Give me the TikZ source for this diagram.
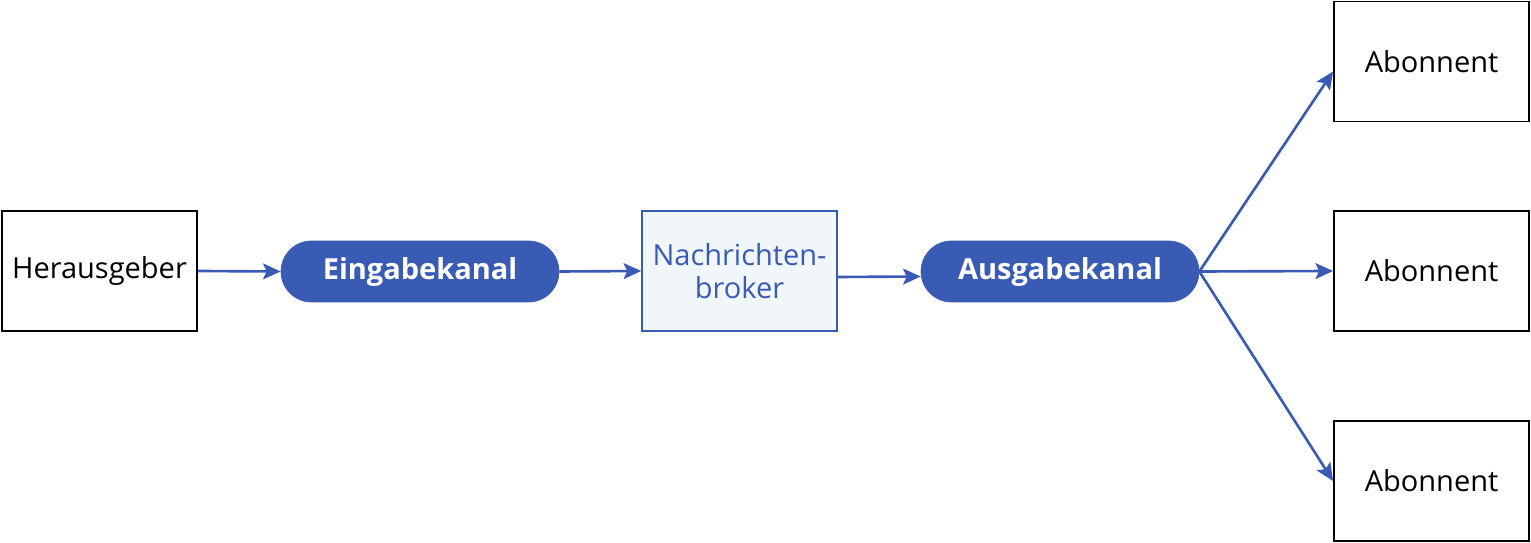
\documentclass[tikz,border=0pt]{standalone}
\usepackage{fontspec}
\setmainfont{Open Sans}
\usetikzlibrary{arrows.meta,shapes.misc}
\definecolor{chanblue}{HTML}{3A5BB3}
\definecolor{brokerfill}{HTML}{F0F6F9}
\tikzset{
  party/.style={draw=black,line width=1.1pt,minimum width=3.9cm,minimum height=2.4cm,inner sep=0pt},
  channel/.style={rounded rectangle,fill=chanblue,draw=chanblue,text=white,font=\fontsize{16.5}{19}\selectfont\bfseries,minimum width=5.56cm,minimum height=1.22cm,inner sep=0pt},
  broker/.style={draw=chanblue,line width=0.9pt,fill=brokerfill,text=chanblue,align=center,minimum width=3.9cm,minimum height=2.4cm,inner sep=0pt},
  flow/.style={chanblue,line width=1.5pt,-{Stealth[length=10pt,width=9pt,inset=2pt]}}
}
\begin{document}
\begin{tikzpicture}[x=0.02cm,y=-0.02cm,font=\fontsize{16.5}{19}\selectfont]
  \useasboundingbox (0,0) rectangle (1531,543);
  \node[party] (pub) at (99.5,271) {Herausgeber};
  \node[channel] (in) at (420,271.5) {Eingabekanal};
  \node[broker] (brk) at (739.5,271) {Nachrichten-\\broker};
  \node[channel] (out) at (1060,271.5) {Ausgabekanal};
  \node[party] (sub1) at (1431.5,61.5) {Abonnent};
  \node[party] (sub2) at (1431.5,271) {Abonnent};
  \node[party] (sub3) at (1431.5,481) {Abonnent};
  \draw[flow] (pub.east) -- (in.west);
  \draw[flow] (in.east) -- (brk.west);
  \draw[flow] ([yshift=-0.12cm]brk.east) -- ([yshift=-0.1cm]out.west);
  \draw[flow] (out.east) -- ([yshift=-0.2cm]sub1.west);
  \draw[flow] (out.east) -- (sub2.west);
  \draw[flow] (out.east) -- (sub3.west);
\end{tikzpicture}
\end{document}
